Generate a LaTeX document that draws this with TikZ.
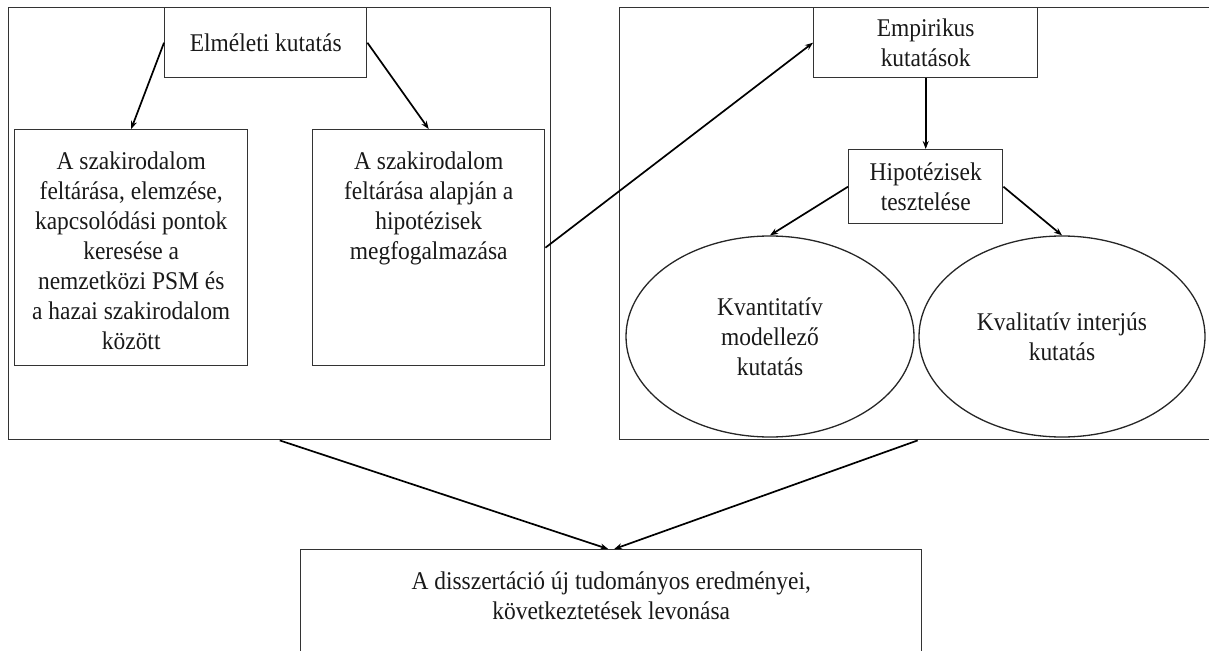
\documentclass[tikz,border=0pt]{standalone}
\usepackage{fontspec}
\setmainfont{Liberation Serif}[FakeStretch=0.92]
\usetikzlibrary{arrows.meta,shapes.geometric}
\begin{document}
\begin{tikzpicture}[x=1pt,y=-1pt,
  box/.style={draw=black!80, line width=1.4pt, inner sep=0pt, anchor=north west},
  txt/.style={font=\fontsize{25.5}{30}\selectfont, align=center, inner sep=0pt, text=black!90},
  oval/.style={ellipse, draw=black!85, line width=1.3pt, inner sep=0pt, font=\fontsize{25.5}{30}\selectfont, align=center, text=black!90},
  arr/.style={-{Stealth[length=8pt,width=6pt]}, line width=1.7pt, black}]
\useasboundingbox (0,0) rectangle (1209,650);
% outer frames
\node[box, minimum width=542pt, minimum height=432pt] (outerL) at (8,7) {};
\node[box, minimum width=596pt, minimum height=432pt] (outerR) at (619,7) {};
% left part
\node[box, txt, minimum width=202pt, minimum height=70pt] (elm) at (164,7) {Elméleti kutatás};
\node[box, minimum width=233pt, minimum height=236pt] (litL) at (14,129) {};
\node[txt, anchor=north] (litLt) at ([yshift=-23pt]litL.north) {A szakirodalom\\feltárása, elemzése,\\kapcsolódási pontok\\keresése a\\nemzetközi PSM és\\a hazai szakirodalom\\között};
\node[box, minimum width=232pt, minimum height=236pt] (litR) at (312,129) {};
\node[txt, anchor=north] (litRt) at ([yshift=-23pt]litR.north) {A szakirodalom\\feltárása alapján a\\hipotézisek\\megfogalmazása};
% right part
\node[box, txt, minimum width=224pt, minimum height=70pt] (emp) at (813,7) {Empirikus\\kutatások};
\node[box, txt, minimum width=154pt, minimum height=74pt] (hip) at (848,149) {Hipotézisek\\tesztelése};
\node[oval, minimum width=288pt, minimum height=201pt] (ellL) at (770,336.5) {Kvantitatív\\modellező\\kutatás};
\node[oval, minimum width=286pt, minimum height=201pt] (ellR) at (1062,336.5) {Kvalitatív interjús\\kutatás};
% bottom
\node[box, minimum width=621pt, minimum height=130pt] (bot) at (300,549) {};
\node[txt, anchor=north] (bott) at ([yshift=-23pt]bot.north) {A disszertáció új tudományos eredményei,\\következtetések levonása};
% connectors
\draw[arr] (elm.west) -- (litL.north);
\draw[arr] (elm.east) -- (litR.north);
\draw[arr] (litR.east) -- (emp.west);
\draw[arr] (emp.south) -- (hip.north);
\draw[arr] (hip.west) -- (ellL.north);
\draw[arr] (hip.east) -- (ellR.north);
\draw[arr] (outerL.south) -- ([xshift=-3pt]bot.north);
\draw[arr] (outerR.south) -- ([xshift=3pt]bot.north);
\end{tikzpicture}
\end{document}
